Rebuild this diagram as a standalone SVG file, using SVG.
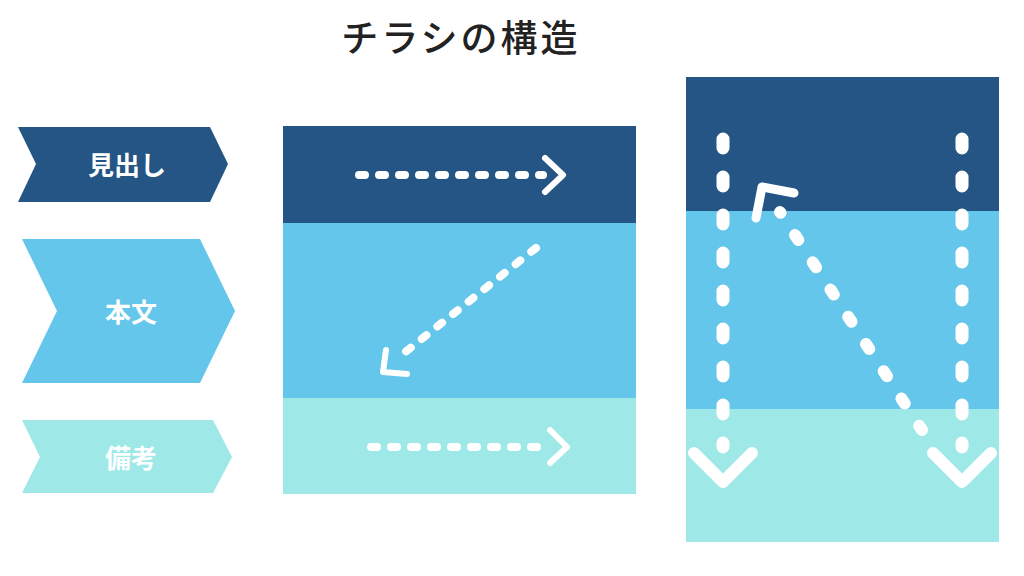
<svg xmlns="http://www.w3.org/2000/svg" width="1024" height="576" viewBox="0 0 1024 576">
<style>
.dark{fill:#245585}
.mid{fill:#65C6EB}
.light{fill:#9EE8E8}
.lbl{font-family:"Noto Sans CJK JP","Noto Sans",sans-serif;font-weight:700;font-size:26px;fill:#fff;text-anchor:middle;dominant-baseline:central}
.title{font-family:"Noto Sans CJK JP","Noto Sans",sans-serif;font-weight:500;font-size:37px;fill:#222;text-anchor:middle;letter-spacing:3px}
.dash{fill:none;stroke:#fff;stroke-linecap:round;stroke-linejoin:round}
.head{fill:none;stroke:#fff;stroke-linecap:round;stroke-linejoin:round}
</style>
<rect width="1024" height="576" fill="#fff"/>
<text class="title" x="461" y="52">チラシの構造</text>

<g id="label-midashi">
<polygon class="dark" points="18,127 210,127 228,164 210,202 18,202 36,164"/>
<text class="lbl" x="127" y="163">見出し</text>
</g>
<g id="label-honbun">
<polygon class="mid" points="22,239 200,239 235,311 200,383 22,383 57,311"/>
<text class="lbl" x="131" y="310">本文</text>
</g>
<g id="label-biko">
<polygon class="light" points="22,420 213,420 232,457 213,493 22,493 40,457"/>
<text class="lbl" x="131" y="456">備考</text>
</g>

<g id="panel-horizontal">
<rect class="dark" x="283" y="126" width="353" height="97"/>
<rect class="mid" x="283" y="223" width="353" height="175"/>
<rect class="light" x="283" y="398" width="353" height="96"/>
</g>

<g id="panel-vertical">
<rect class="dark" x="686" y="77" width="313" height="134"/>
<rect class="mid" x="686" y="211" width="313" height="198"/>
<rect class="light" x="686" y="409" width="313" height="133"/>
</g>

<g id="connectors">
<line class="dash" x1="359" y1="175" x2="543" y2="175" stroke-width="8" stroke-dasharray="6 14"/>
<polyline class="head" points="545,158 563,175 545,192" stroke-width="6"/>

<line class="dash" x1="536" y1="248" x2="399" y2="357" stroke-width="8" stroke-dasharray="6 14"/>
<polyline class="head" points="386,350 383,372 407,374" stroke-width="6"/>

<line class="dash" x1="371" y1="447" x2="545" y2="447" stroke-width="8" stroke-dasharray="6 14"/>
<polyline class="head" points="550,430 567,447 550,463" stroke-width="6"/>

<line class="dash" x1="723" y1="139" x2="723" y2="447" stroke-width="13" stroke-dasharray="9 29"/>
<polyline class="head" points="694,453 723,482 752,453" stroke-width="12"/>

<line class="dash" x1="962" y1="139" x2="962" y2="447" stroke-width="13" stroke-dasharray="9 29"/>
<polyline class="head" points="933,453 962,482 991,453" stroke-width="12"/>

<line class="dash" x1="780" y1="212" x2="922" y2="430" stroke-width="12" stroke-dasharray="6 26.5" stroke-dashoffset="5"/>
<polyline class="head" points="756,218 762,187 794,193" stroke-width="9"/>
</g>
</svg>
